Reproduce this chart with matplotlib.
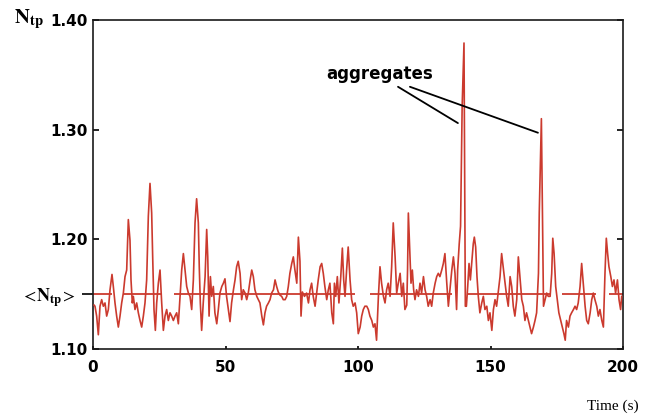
import matplotlib
matplotlib.use("Agg")
import matplotlib.pyplot as plt

# ---- data ----
t_sec = [0.4, 0.75, 1.38, 2.01, 2.64, 3.27, 3.90, 4.53, 5.16, 5.79, 6.42, 7.17, 7.67, 8.30, 8.93, 9.56,
         10.19, 10.82, 11.45, 12.08, 12.71, 13.33, 13.96, 14.34, 14.84, 15.22, 15.85, 16.48, 17.11, 17.74,
         18.37, 19.00, 19.62, 20.25, 20.88, 21.51, 22.14, 22.52, 23.02, 23.53, 24.03, 24.66, 25.29, 25.92,
         26.55, 27.17, 27.80, 28.43, 29.06, 29.69, 30.32, 30.95, 31.58, 32.21, 32.84, 33.47, 34.10, 34.73,
         35.36, 35.99, 36.61, 37.24, 37.87, 38.50, 39.1, 39.75, 40.1, 40.5, 41.0, 41.6, 42.3, 42.9, 43.3,
         43.8, 44.3, 44.8, 45.4, 46.0, 46.7, 47.3, 47.9, 48.6, 49.2, 49.8, 50.4, 51.1, 51.7, 52.3, 53.0,
         53.6, 54.2, 54.8, 55.5, 56.1, 56.7, 57.4, 58.0, 58.6, 59.3, 59.9, 60.5, 61.1, 61.8, 62.4, 63.0,
         63.7, 64.3, 64.9, 65.5, 66.2, 66.8, 67.4, 68.1, 68.7, 69.3, 69.9, 70.6, 71.2, 71.8, 72.5, 73.1,
         73.7, 74.3, 75.0, 75.6, 76.2, 76.9, 77.5, 78.1, 78.5, 79.0, 79.8, 80.6, 81.3, 81.9, 82.5, 83.1,
         83.8, 84.4, 85.0, 85.7, 86.3, 86.9, 87.5, 88.2, 88.8, 89.4, 90.1, 90.7, 91.1, 91.6, 92.2, 92.8,
         93.5, 94.1, 94.6, 95.1, 95.7, 96.3, 97.0, 97.6, 98.2, 98.9, 99.5, 100.1, 100.8, 101.4, 102.0,
         102.6, 103.3, 103.9, 104.5, 105.2, 105.8, 106.4, 107.0, 107.7, 108.3, 108.9, 109.6, 110.2, 110.8,
         111.4, 112.1, 112.7, 113.3, 114.0, 114.6, 115.2, 115.9, 116.5, 117.1, 117.7, 118.4, 118.7, 119.0,
         119.5, 120.0, 120.5, 121.0, 121.5, 122.1, 122.8, 123.4, 124.0, 124.7, 125.3, 125.9, 126.5, 127.2,
         127.8, 128.4, 129.1, 129.7, 130.3, 130.9, 131.6, 132.2, 132.8, 133.5, 134.1, 134.7, 135.4, 136.0,
         136.6, 137.2, 137.6, 138.2, 138.7, 139.3, 140.0, 140.5, 140.9, 141.4, 141.9, 142.4, 142.9, 143.5,
         143.9, 144.4, 144.9, 145.4, 146.0, 146.7, 147.3, 147.9, 148.6, 149.2, 149.8, 150.5, 151.1, 151.7,
         152.3, 153.0, 153.6, 154.2, 154.9, 155.5, 156.1, 156.7, 157.4, 158.0, 158.6, 159.2, 159.9, 160.5,
         161.1, 161.8, 162.4, 163.0, 163.6, 164.3, 164.9, 165.5, 166.2, 166.8, 167.4, 168.1, 168.4, 168.8,
         169.2, 169.6, 170.0, 170.6, 171.2, 171.8, 172.5, 173.1, 173.5, 174.0, 174.6, 175.2, 175.8, 176.5,
         177.1, 177.7, 178.2, 178.7, 179.4, 180.0, 180.6, 181.3, 181.9, 182.5, 183.1, 183.8, 184.4, 185.0,
         185.7, 186.3, 186.9, 187.6, 188.2, 188.8, 189.4, 190.1, 190.7, 191.3, 192.0, 192.6, 193.2, 193.7,
         194.2, 194.7, 195.4, 196.0, 196.6, 197.2, 197.9, 198.5, 199.1, 199.5]

n_tp = [1.140, 1.139, 1.130, 1.113, 1.139, 1.145, 1.139, 1.142, 1.130, 1.136, 1.154, 1.168, 1.157, 1.142, 1.130, 1.120,
        1.130, 1.142, 1.151, 1.166, 1.172, 1.218, 1.199, 1.163, 1.142, 1.148, 1.136, 1.142, 1.133, 1.126,
        1.120, 1.130, 1.142, 1.163, 1.221, 1.251, 1.224, 1.184, 1.136, 1.117, 1.142, 1.160, 1.172, 1.142,
        1.117, 1.130, 1.136, 1.126, 1.133, 1.130, 1.126, 1.130, 1.133, 1.123, 1.148, 1.172, 1.187, 1.172,
        1.157, 1.151, 1.148, 1.136, 1.163, 1.215, 1.237, 1.215, 1.175, 1.142, 1.117, 1.142, 1.166, 1.209, 1.184,
        1.130, 1.166, 1.148, 1.157, 1.133, 1.123, 1.136, 1.151, 1.157, 1.160, 1.164, 1.148, 1.136, 1.125, 1.142, 1.154,
        1.163, 1.175, 1.180, 1.169, 1.145, 1.154, 1.151, 1.145, 1.151, 1.163, 1.172, 1.166, 1.154, 1.148, 1.145, 1.142,
        1.130, 1.122, 1.133, 1.139, 1.142, 1.145, 1.151, 1.154, 1.163, 1.157, 1.152, 1.149, 1.148, 1.145, 1.145, 1.148,
        1.157, 1.169, 1.178, 1.184, 1.172, 1.160, 1.202, 1.180, 1.130, 1.152, 1.148, 1.151, 1.142, 1.154, 1.160, 1.148,
        1.139, 1.151, 1.163, 1.175, 1.178, 1.169, 1.157, 1.145, 1.154, 1.160, 1.133, 1.123, 1.160, 1.148, 1.166, 1.142,
        1.166, 1.192, 1.163, 1.148, 1.172, 1.193, 1.163, 1.145, 1.139, 1.142, 1.133, 1.114, 1.120, 1.130, 1.136,
        1.139, 1.139, 1.136, 1.130, 1.126, 1.120, 1.123, 1.108, 1.148, 1.175, 1.160, 1.148, 1.142, 1.154,
        1.160, 1.148, 1.175, 1.215, 1.184, 1.151, 1.160, 1.169, 1.148, 1.160, 1.136, 1.140, 1.172, 1.224,
        1.193, 1.160, 1.172, 1.154, 1.145, 1.154, 1.148, 1.160, 1.151, 1.166, 1.154, 1.148, 1.139, 1.145,
        1.139, 1.151, 1.160, 1.166, 1.169, 1.166, 1.172, 1.178, 1.187, 1.160, 1.139, 1.154, 1.172, 1.184,
        1.169, 1.136, 1.172, 1.196, 1.212, 1.321, 1.379, 1.139, 1.139, 1.157, 1.178, 1.163, 1.178, 1.196,
        1.202, 1.193, 1.166, 1.148, 1.133, 1.142, 1.148, 1.136, 1.139, 1.126, 1.133, 1.117, 1.136, 1.145,
        1.139, 1.154, 1.166, 1.187, 1.172, 1.160, 1.148, 1.139, 1.166, 1.157, 1.139, 1.130, 1.145, 1.184,
        1.166, 1.145, 1.139, 1.126, 1.133, 1.126, 1.120, 1.114, 1.120, 1.126, 1.133, 1.169, 1.224, 1.266,
        1.310, 1.221, 1.139, 1.145, 1.151, 1.148, 1.148, 1.169, 1.201, 1.187, 1.157, 1.145, 1.133, 1.126,
        1.120, 1.114, 1.108, 1.126, 1.120, 1.130, 1.133, 1.136, 1.139, 1.136, 1.142, 1.157, 1.178, 1.160,
        1.139, 1.126, 1.123, 1.133, 1.145, 1.151, 1.145, 1.139, 1.130, 1.136, 1.126, 1.120, 1.169, 1.201,
        1.187, 1.175, 1.166, 1.157, 1.163, 1.151, 1.163, 1.145, 1.136, 1.148]

mean_ntp = 1.15
mean_seg_start = [0, 11.3, 30.6, 104.5, 141.1, 177.0, 194.7]
mean_seg_end = [7.2, 26.0, 98.9, 135.5, 172.5, 189.8, 200]

x_ticks = [0, 50, 100, 150, 200]
y_ticks = [1.10, 1.20, 1.30, 1.40]
y_tick_labels = ["1.10", "1.20", "1.30", "1.40"]

# ---- figure ----
plt.rcParams["mathtext.fontset"] = "stix"
fig = plt.figure(figsize=(6.5, 4.18), dpi=100, facecolor="white")
ax = fig.add_axes([93 / 650, 1 - 349 / 418, 530 / 650, 329 / 418])

red = "#cb3a2e"
ax.hlines([mean_ntp] * len(mean_seg_start), mean_seg_start, mean_seg_end, colors=red, lw=1.3, zorder=2)
ax.plot(t_sec, n_tp, color=red, lw=1.2, zorder=3)

ax.set_xlim(0, 200)
ax.set_ylim(1.10, 1.40)

for s in ax.spines.values():
    s.set_linewidth(1.2)
    s.set_color("#1a1a1a")

tickfont = dict(family="DejaVu Sans", weight="bold", size=11)
ax.set_xticks(x_ticks)
ax.set_xticklabels([str(v) for v in x_ticks], fontdict=tickfont)
ax.set_yticks(y_ticks)
ax.set_yticklabels(y_tick_labels, fontdict=tickfont)
ax.tick_params(axis="x", which="major", direction="in", length=2, width=1.2, pad=8, top=False)
ax.tick_params(axis="y", which="major", direction="in", length=4, width=1.2, pad=4, right=True)

ax.set_yticks([mean_ntp], minor=True)
ax.set_yticklabels([r"$<\!\mathbf{N}_{\mathbf{tp}}\!>$"], minor=True, fontsize=13)
ax.tick_params(axis="y", which="minor", direction="out", length=8, width=1.2, pad=5, right=False)
ax.tick_params(axis="x", which="minor", bottom=False)

fig.text(0.022, 0.955, r"$\mathbf{N}_{\mathbf{tp}}$", fontsize=15, va="center", ha="left")
fig.text(0.982, 0.028, "Time (s)", family="Liberation Serif", fontsize=11, ha="right", va="center")

# annotation
ax.text(108.3, 1.351, "aggregates", family="DejaVu Sans", weight="bold", fontsize=12,
        ha="center", va="center")
ax.annotate("", xy=(137.7, 1.306), xytext=(115.1, 1.3391),
            arrowprops=dict(arrowstyle="-", lw=1.3, color="black", shrinkA=0, shrinkB=0))
ax.annotate("", xy=(167.9, 1.2972), xytext=(119.6, 1.3391),
            arrowprops=dict(arrowstyle="-", lw=1.3, color="black", shrinkA=0, shrinkB=0))

fig.savefig("out.png", dpi=100, facecolor="white")
